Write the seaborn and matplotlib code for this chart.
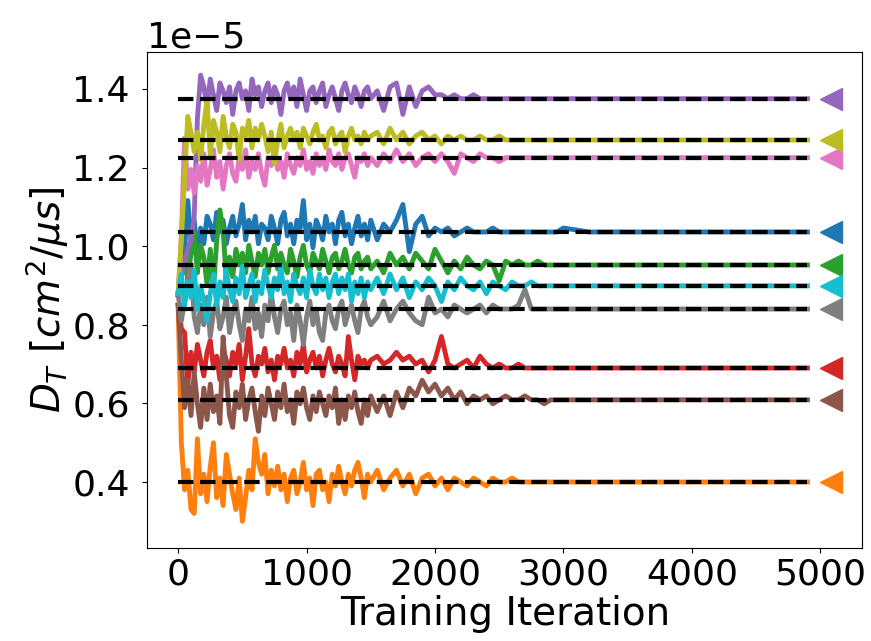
import numpy as np
import pandas as pd
import matplotlib
matplotlib.use("Agg")
import matplotlib.pyplot as plt
import seaborn as sns

# Training iterations at which the diffusion coefficient was logged
iterations = np.concatenate([
    np.arange(0, 1501, 25),
    np.arange(1550, 3001, 50),
    np.arange(3200, 4801, 200),
    [4900],
])

# Reference (true) transverse diffusion coefficients, in units of 1e-5 cm^2/us
names = ["C0", "C1", "C2", "C3", "C4", "C5", "C6", "C7", "C8", "C9"]
colors = ["#1f77b4", "#ff7f0e", "#2ca02c", "#d62728", "#9467bd",
          "#8c564b", "#e377c2", "#7f7f7f", "#bcbd22", "#17becf"]
targets = [1.036, 0.400, 0.952, 0.690, 1.375, 0.609, 1.225, 0.840, 1.270, 0.899]
ref_iteration = 5080

# Learned value minus reference value, in units of 0.01e-5 cm^2/us
dev_blue = [
    -16, -10, -5, 8, -2, 3, -6, 1,
    -3, 4, 2, -2, 5, 0, 3, -3,
    1, 4, -1, 2, 7, -2, 3, 0,
    4, -3, 2, 1, -2, 4, 1, -3,
    3, 5, -1, 2, -3, 3, 1, 8,
    -2, 2, -4, 3, 1, -2, 4, 0,
    2, -3, 3, 5, -1, 2, -3, 1,
    4, -1, 2, -2, 3,
    -2, 2, 0, 3, 7, -5, 2, 4, -1, 1,
    0, 1, -1, 0, 1, 0, 0, 0, 1, 0,
    0, 0, 0, 0, 0, 0, 0, 0, 0, 1,
    0, 0, 0, 0, 0, 0, 0, 0, 0, 0,
]
dev_orange = [
    45, 10, -2, 3, -7, -8, 11, -3,
    2, -5, 4, 10, -4, 1, -6, 7,
    2, -3, -7, 1, -10, -4, 3, -2,
    11, 5, 2, 7, -3, 3, -1, 4,
    -2, 2, -5, 1, 3, -3, 0, 5,
    -2, 1, -6, 2, 3, -2, 0, -5,
    2, -1, 4, 0, -3, 2, -1, 3,
    5, 1, -4, 2, 0,
    3, -2, 1, 3, -1, 2, -3, 1, 2, -1,
    1, -2, 1, 0, -1, 1, 0, -1, 1, 0,
    0, 1, 0, 0, 0, 0, 0, 0, 0, 0,
    0, 0, 0, 0, 0, 0, 0, 0, 0, 0,
]
dev_green = [
    -7, -3, 2, -4, 3, 8, -2, 5,
    2, -5, 4, -6, 6, 14, 9, -4,
    2, -3, 4, 0, 3, -2, 5, 1,
    -3, 3, 0, 4, -2, 2, 5, -1,
    3, 0, -2, 4, 1, -3, 2, 5,
    0, -2, 3, 1, -1, 4, 1, -2,
    2, 3, -1, 1, 4, 0, -2, 2,
    3, -1, 1, 2, -1,
    1, -2, 3, 0, 2, -1, 3, 1, -1, 4,
    1, -2, 1, -1, 2, 0, -1, 1, 0, -4,
    1, 0, 1, 0, 0, 1, 0, 0, 0, 0,
    0, 0, 0, 0, 0, 0, 0, 0, 0, 0,
]
dev_red = [
    16, 10, 9, -4, 4, -1, 6, 2,
    -2, 4, 7, 0, 3, -3, 5, 2,
    -2, 4, 1, 6, -3, 3, 10, 1,
    -2, 3, 1, 5, -1, 2, -3, 3,
    1, 5, 0, 2, -2, 4, 1, 6,
    -1, 2, 4, 0, 3, -2, 2, 5,
    1, -1, 3, 1, -2, 8, 2, -3,
    3, 1, 2, 0, 2,
    3, 1, 2, 4, 2, 3, 1, 2, -1, 2,
    8, 1, 0, 1, 2, 0, 3, 1, 0, 1,
    0, 0, 1, 0, 0, 0, 0, 0, 0, 0,
    0, 0, 0, 0, 0, 0, 0, 0, 0, 0,
]
dev_purple = [
    -50, -45, -42, -38, -36, -30, -5, 6,
    3, -2, 5, 1, -3, 4, 2, -1,
    3, -4, 2, 4, 0, 2, -3, 5,
    1, 3, -2, 2, 4, -1, 3, 1,
    -4, 2, 4, 0, 3, -2, 5, 1,
    -3, 2, 3, -1, 2, 4, -2, 1,
    3, 0, -3, 2, 4, 1, -1, 3,
    1, -2, 2, 3, 0,
    2, -3, 3, 4, -4, 3, -2, 2, 3, 1,
    1, 0, 1, 0, 0, 1, 0, 0, 0, 0,
    0, 0, 0, 0, 0, 0, 0, 0, 0, 0,
    0, 0, 0, 0, 0, 0, 0, 0, 0, 0,
]
dev_brown = [
    24, 10, -2, 5, -4, 7, -1, -7,
    3, -5, 4, -3, 1, -6, 16, 6,
    -4, -7, 2, -2, 4, -5, 0, 3,
    -3, -8, 1, -4, 3, -1, -5, 2,
    -2, 4, -3, 0, -6, 2, -1, 3,
    -2, -5, 1, -3, 2, -1, -4, 1,
    -2, 3, -6, 0, -5, 1, -2, 2,
    -3, -6, 0, -4, 1,
    -3, 1, -4, 2, -2, 3, 1, 5, 2, 4,
    1, 3, 0, 2, -1, 1, 0, 1, -1, 0,
    1, 0, 0, 1, 0, 0, -1, 0, 0, 0,
    0, 0, 0, 0, 0, 0, 0, 0, 0, 0,
]
dev_pink = [
    -35, -20, 5, -8, -3, -9, -2, -6,
    1, -7, -3, 2, -5, -1, -8, -2,
    1, -4, -6, 0, -3, 2, -5, -1,
    -3, 1, -4, -7, 0, -2, 2, -3,
    -1, -5, 1, -2, -4, 0, -2, 2,
    -3, -1, -4, 1, -2, 0, -3, 2,
    -1, -2, 1, -3, 0, 1, -2, -5,
    0, -1, 1, -2, 0,
    -2, 1, -1, 2, -1, 1, -2, 0, 1, -1,
    1, -1, -4, 1, 0, -1, 1, 0, 0, -1,
    0, 0, 0, 0, 0, 0, 0, 0, 0, 0,
    0, 0, 0, 0, 0, 0, 0, 0, 0, 0,
]
dev_gray = [
    4, -3, 2, 8, 11, -2, -6, 1,
    -4, 3, -7, -1, 2, -5, -2, 3,
    -6, -1, 2, -4, -8, 0, -3, 3,
    -5, -1, -7, 1, -3, 4, -2, -6,
    0, 2, -4, -1, -8, 1, -3, -9,
    -2, 2, -4, 0, -6, -8, -1, 1,
    -3, -5, 0, 2, -4, -1, 1, -3,
    -6, 0, 2, -2, -4,
    -2, 2, -3, 0, 2, -1, -3, -4, 3, -1,
    0, -2, 1, 0, -1, 0, 1, -1, 1, 0,
    0, 0, 1, 5, 0, 0, 0, 0, 0, 0,
    0, 0, 0, 0, 0, 0, 0, 0, 0, 0,
]
dev_olive = [
    -39, -25, -10, 6, 2, -3, 2, -5,
    4, 10, -4, 5, 2, -3, 6, 1,
    -2, 4, 2, -5, 3, 1, 5, -2,
    3, 0, 4, 1, -3, 2, -6, 0,
    4, -2, 1, 3, 0, 2, -2, 3,
    1, -1, 2, 4, 0, 1, -2, 2,
    3, -1, 1, 2, -3, 1, 3, 0,
    1, -1, 2, 0, 1,
    2, -1, 3, 0, 2, -1, 1, 2, 0, 1,
    -1, 1, 0, 1, 0, 0, 1, 0, 0, 1,
    0, 0, 0, 0, 0, 0, 0, 0, 0, 0,
    0, 0, 0, 0, 0, 0, 0, 0, 0, 0,
]
dev_cyan = [
    -2, 3, -5, 1, -3, 4, -6, 0,
    -4, -9, -2, 3, -5, 1, -3, 4,
    -1, -4, 2, -2, 5, -3, 0, 3,
    -4, 1, -2, 4, 0, -3, 2, -1,
    5, -2, 1, -4, 3, 0, -2, 2,
    -3, 4, 0, -2, 3, -1, 2, -3,
    1, 3, -2, 2, -1, 3, -4, 1,
    -2, 2, -3, 1, -1,
    2, -2, 3, -1, 2, -3, 1, -1, 2, 0,
    -4, 1, -1, 2, 0, -1, 1, -2, 1, 0,
    -1, 1, 0, 0, 1, 0, 0, 0, 0, 0,
    0, 0, 0, 0, 0, 0, 0, 0, 0, 0,
]

deviations = [dev_blue, dev_orange, dev_green, dev_red, dev_purple,
              dev_brown, dev_pink, dev_gray, dev_olive, dev_cyan]

frames = []
for name, target, dev in zip(names, targets, deviations):
    dev = np.asarray(dev, dtype=float)
    assert len(dev) == len(iterations), (name, len(dev), len(iterations))
    frames.append(pd.DataFrame({
        "iteration": iterations,
        "D": (target + dev / 100.0) * 1e-5,
        "series": name,
    }))
df = pd.concat(frames, ignore_index=True)

plt.rcParams["font.family"] = ["DejaVu Sans"]
plt.rcParams["xtick.labelsize"] = 26
plt.rcParams["ytick.labelsize"] = 26
plt.rcParams["axes.labelsize"] = 28

fig, ax = plt.subplots(figsize=(8.71, 6.41), dpi=100)
fig.subplots_adjust(left=0.169, right=0.990, top=0.919, bottom=0.145)

sns.lineplot(data=df, x="iteration", y="D", hue="series", hue_order=names,
             palette=colors, linewidth=3.5, legend=False, errorbar=None, ax=ax)

for target, color in zip(targets, colors):
    ax.plot([iterations[0], iterations[-1]], [target * 1e-5] * 2,
            color="black", linestyle="--", linewidth=3)
    ax.plot([ref_iteration], [target * 1e-5], marker="<", markersize=16,
            color=color, linestyle="none")

ax.set_xlim(-241, 5327)
ax.set_ylim(0.232e-5, 1.494e-5)
ax.set_xticks([0, 1000, 2000, 3000, 4000, 5000])
ax.set_yticks(np.array([0.4, 0.6, 0.8, 1.0, 1.2, 1.4]) * 1e-5)
ax.tick_params(axis="y", pad=9)
ax.set_xlabel("Training Iteration", labelpad=2)
ax.set_ylabel(r"$D_T\ [cm^2/\mu s]$", labelpad=1)

fig.savefig("out.png", dpi=100)
